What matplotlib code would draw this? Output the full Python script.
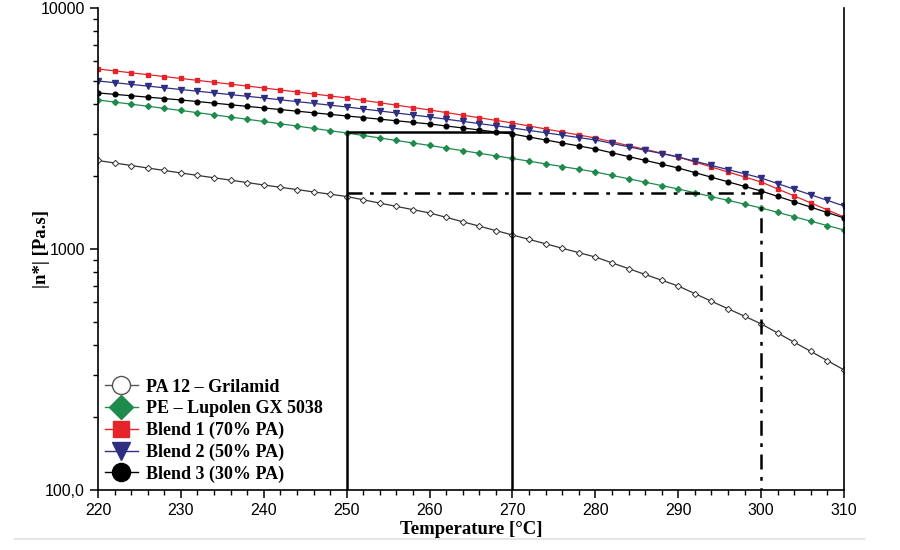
import matplotlib
matplotlib.use("Agg")
import matplotlib.pyplot as plt
from matplotlib.lines import Line2D
from matplotlib.ticker import FixedLocator, LogLocator, NullFormatter, MultipleLocator
import numpy as np

# temperature grid (every 2 degC)
temp = np.arange(220, 311, 2)

pa12 = [2329, 2274, 2220, 2168, 2117, 2067, 2020, 1974, 1930, 1886,
        1843, 1803, 1764, 1725, 1688, 1651, 1600, 1550, 1502, 1456,
        1411, 1353, 1297, 1244, 1192, 1143, 1096, 1051, 1007, 966,
        926, 876, 829, 784, 742, 702, 653, 607, 565, 526,
        489, 448, 410, 376, 344, 315]
pe = [4153, 4070, 3989, 3910, 3832, 3756, 3678, 3601, 3526, 3453,
      3381, 3307, 3236, 3165, 3096, 3029, 2958, 2888, 2820, 2754,
      2689, 2623, 2558, 2495, 2434, 2374, 2314, 2255, 2198, 2142,
      2087, 2020, 1956, 1893, 1833, 1774, 1711, 1650, 1591, 1535,
      1480, 1419, 1360, 1304, 1250, 1199]
blend1 = [5583, 5483, 5384, 5287, 5192, 5099, 5007, 4917, 4829, 4742,
          4656, 4568, 4482, 4397, 4314, 4232, 4136, 4043, 3951, 3862,
          3775, 3682, 3592, 3503, 3417, 3333, 3239, 3147, 3058, 2972,
          2888, 2785, 2686, 2590, 2497, 2408, 2296, 2189, 2087, 1990,
          1897, 1774, 1660, 1553, 1452, 1358]
blend2 = [4979, 4898, 4819, 4741, 4664, 4589, 4515, 4443, 4371, 4301,
          4232, 4160, 4089, 4020, 3951, 3884, 3810, 3738, 3667, 3597,
          3529, 3456, 3384, 3313, 3244, 3177, 3105, 3035, 2967, 2900,
          2834, 2743, 2655, 2570, 2488, 2408, 2313, 2222, 2135, 2051,
          1970, 1867, 1770, 1678, 1591, 1508]
blend3 = [4441, 4382, 4323, 4266, 4209, 4153, 4090, 4028, 3967, 3906,
          3847, 3789, 3731, 3674, 3619, 3564, 3510, 3456, 3404, 3352,
          3302, 3239, 3178, 3117, 3058, 3000, 2915, 2833, 2753, 2676,
          2600, 2507, 2418, 2332, 2248, 2168, 2075, 1985, 1900, 1818,
          1740, 1653, 1570, 1491, 1416, 1345]

labels = ["PA 12 \u2013 Grilamid", "PE \u2013 Lupolen GX 5038",
          "Blend 1 (70% PA)", "Blend 2 (50% PA)", "Blend 3 (30% PA)"]

# processing window box and the 300 degC read-off
box_t = [250, 270]
box_top = 3050
read_t = 300
read_val = 1700

plt.rcParams['font.family'] = ['Liberation Sans', 'DejaVu Sans']

fig = plt.figure(figsize=(9, 5.5), dpi=100)
ax = fig.add_axes([0.1089, 0.1091, 0.8289, 0.8764])

ax.plot(temp, pa12, color='#333333', lw=0.9, marker='D', ms=3.2,
        mfc='white', mec='#333333', mew=0.7)
ax.plot(temp, pe, color='#1e8a4c', lw=0.9, marker='D', ms=3,
        mfc='#1e8a4c', mec='#1e8a4c')
ax.plot(temp, blend1, color='#e52329', lw=0.9, marker='s', ms=3.2,
        mfc='#e52329', mec='#e52329')
ax.plot(temp, blend2, color='#2e2e82', lw=0.9, marker='v', ms=3.8,
        mfc='#2e2e82', mec='#2e2e82')
ax.plot(temp, blend3, color='black', lw=0.9, marker='o', ms=3.4,
        mfc='black', mec='black')

# solid box 250-270
ax.plot([box_t[0], box_t[0], box_t[1], box_t[1]],
        [100, box_top, box_top, 100], color='black', lw=1.8)
# dash-dot read-off
ax.plot([box_t[0], read_t, read_t], [read_val, read_val, 100],
        color='black', lw=1.8, linestyle=(0, (6, 3, 1.5, 3)))

ax.set_yscale('log')
ax.set_xlim(220, 310)
ax.set_ylim(100, 10000)
ax.yaxis.set_major_locator(FixedLocator([100, 1000, 10000]))
ax.set_yticklabels(["100,0", "1000", "10000"])
ax.yaxis.set_minor_locator(LogLocator(base=10, subs=np.arange(2, 10)))
ax.yaxis.set_minor_formatter(NullFormatter())
ax.xaxis.set_major_locator(MultipleLocator(10))
ax.xaxis.set_minor_locator(MultipleLocator(2))

ax.spines['top'].set_visible(False)
for s in ['left', 'bottom', 'right']:
    ax.spines[s].set_linewidth(1.2)
ax.tick_params(which='major', direction='out', length=6, width=1.1,
               labelsize=11.5)
ax.tick_params(which='minor', direction='out', length=3.5, width=1.0)

serif = ['Liberation Serif', 'DejaVu Serif']
ax.set_xlabel("Temperature [\u00b0C]", family=serif, fontweight='bold',
              fontsize=13.5)
ax.set_ylabel("|n*| [Pa.s]", family=serif, fontweight='bold',
              fontsize=13.5)
ax.xaxis.set_label_coords(0.5, -0.064)
ax.yaxis.set_label_coords(-0.064, 0.5)

handles = [
    Line2D([], [], color='#555555', lw=1, marker='o', ms=13,
           mfc='white', mec='#555555'),
    Line2D([], [], color='#1e8a4c', lw=1, marker='D', ms=12,
           mfc='#1e8a4c', mec='#1e8a4c'),
    Line2D([], [], color='#e52329', lw=1, marker='s', ms=12,
           mfc='#e52329', mec='#e52329'),
    Line2D([], [], color='#2e2e82', lw=1, marker='v', ms=13,
           mfc='#2e2e82', mec='#2e2e82'),
    Line2D([], [], color='black', lw=1, marker='o', ms=13,
           mfc='black', mec='black'),
]
ax.legend(handles, labels, loc='lower left', bbox_to_anchor=(0.0, 0.0),
          frameon=False, handlelength=1.8, handletextpad=0.45,
          labelspacing=0.25, borderaxespad=0.0,
          prop={'family': serif, 'weight': 'bold', 'size': 13})

# faint page rule under the chart
fig.add_artist(Line2D([0.017, 0.96], [0.02, 0.02], color='#e6e6e6',
                      lw=1.5, transform=fig.transFigure))

fig.savefig("out.png", dpi=100)
